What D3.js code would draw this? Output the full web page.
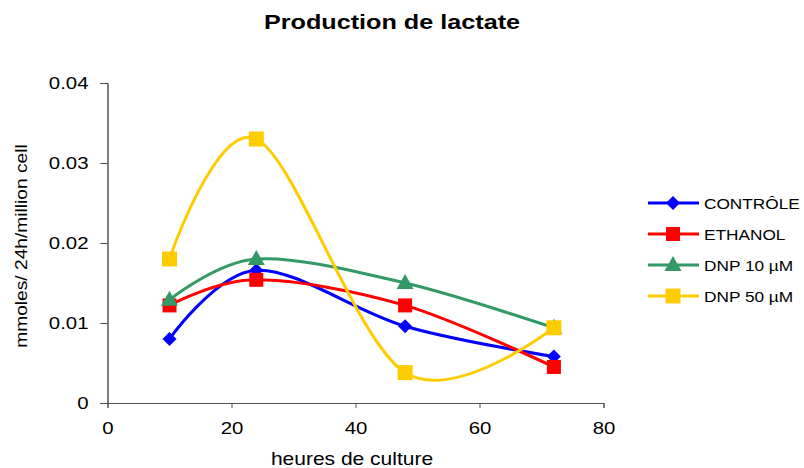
<!DOCTYPE html>
<html>
<head>
<meta charset="utf-8">
<script src="https://cdn.jsdelivr.net/npm/d3@7"></script>
<style>
  body { margin: 0; background: #fff; }
  svg text { font-family: "Liberation Sans", Arial, sans-serif; fill: #000; }
</style>
</head>
<body>
<div id="chart"></div>
<script>
// data
var hours = [10, 24, 48, 72]
var controle = [0.0080, 0.0166, 0.0096, 0.0058]
var ethanol = [0.0122, 0.0154, 0.0122, 0.0045]
var dnp10 = [0.0129, 0.0180, 0.0150, 0.0094]
var dnp50 = [0.0180, 0.0330, 0.0038, 0.0094]

var seriesNames = ['CONTRÔLE', 'ETHANOL', 'DNP 10 µM', 'DNP 50 µM']
var seriesColors = ['#0000ff', '#ff0000', '#339966', '#ffcc00']
var seriesSymbols = ['diamond', 'square', 'triangle', 'bigsquare']
var xTicks = [0, 20, 40, 60, 80]
var yTicks = [0, 0.01, 0.02, 0.03, 0.04]

var width = 804, height = 468
var sx = 1.2 // the original text is a bit stretched sideways

var svg = d3.select('#chart').append('svg')
	.attr('width', width)
	.attr('height', height)

var x = d3.scaleLinear().domain([0, 80]).range([107.5, 603.5])
var y = d3.scaleLinear().domain([0, 0.04]).range([403, 83])

var line = d3.line()
	.x(d => x(d[0]))
	.y(d => y(d[1]))
	.curve(d3.curveCatmullRom.alpha(0))

var label = (tx, ty, size, txt, rot) => svg.append('text')
	.attr('transform', 'translate(' + tx + ',' + ty + ')' + (rot ? ' rotate(-90)' : '') + ' scale(' + sx + ',1)')
	.attr('text-anchor', 'middle')
	.attr('font-size', size)
	.text(txt)

// title
label(392, 29, 21, 'Production de lactate').attr('font-weight', 'bold')

// axes
var yAxis = svg.append('g')
	.attr('transform', 'translate(' + x(0) + ',0)')
	.call(d3.axisLeft(y).tickValues(yTicks).tickSize(7)
		.tickFormat(d => d === 0 ? '0' : d3.format('.2f')(d)))
yAxis.select('.domain').attr('stroke', '#000')
yAxis.selectAll('.tick line').attr('stroke', '#444')
yAxis.selectAll('text')
	.attr('font-size', 17).attr('fill', '#000')
	.attr('font-family', '"Liberation Sans", Arial, sans-serif')
	.attr('x', -19 / sx)
	.attr('transform', 'scale(' + sx + ',1)')

var xAxis = svg.append('g')
	.attr('transform', 'translate(0,' + y(0) + ')')
	.call(d3.axisBottom(x).tickValues(xTicks).tickSize(5))
xAxis.select('.domain').attr('stroke', '#555')
xAxis.selectAll('.tick line').attr('stroke', '#555')
xAxis.selectAll('text')
	.attr('font-size', 17).attr('fill', '#000')
	.attr('font-family', '"Liberation Sans", Arial, sans-serif')
	.attr('y', 31).attr('dy', 0)
	.attr('transform', 'scale(' + sx + ',1)')

label(352, 465, 17.5, 'heures de culture')
label(27, 246, 16, 'mmoles/ 24h/million cell', true)

var allSeries = [controle, ethanol, dnp10, dnp50]

function marker(g, kind, color, cx, cy) {
	if (kind === 'diamond') {
		g.append('path')
			.attr('d', 'M0,-7L7,0L0,7L-7,0Z')
			.attr('transform', 'translate(' + cx + ',' + cy + ')')
			.attr('fill', color)
	} else if (kind === 'square') {
		g.append('rect')
			.attr('x', cx - 7).attr('y', cy - 7)
			.attr('width', 14).attr('height', 14)
			.attr('fill', color)
	} else if (kind === 'bigsquare') {
		g.append('rect')
			.attr('x', cx - 7.5).attr('y', cy - 7.5)
			.attr('width', 15).attr('height', 15)
			.attr('fill', color)
	} else {
		g.append('path')
			.attr('d', 'M0,-9L8.5,6L-8.5,6Z')
			.attr('transform', 'translate(' + cx + ',' + cy + ')')
			.attr('fill', color)
	}
}

allSeries.forEach((vals, i) => {
	var pts = hours.map((h, j) => [h, vals[j]])
	var g = svg.append('g')
	g.append('path')
		.datum(pts)
		.attr('d', line)
		.attr('fill', 'none')
		.attr('stroke', seriesColors[i])
		.attr('stroke-width', 3)
	pts.forEach(p => marker(g, seriesSymbols[i], seriesColors[i], x(p[0]), y(p[1])))
})

// legend
var legend = svg.append('g')
seriesNames.forEach((name, i) => {
	var ly = 203 + i * 31
	legend.append('line')
		.attr('x1', 648).attr('x2', 699)
		.attr('y1', ly).attr('y2', ly)
		.attr('stroke', seriesColors[i])
		.attr('stroke-width', 3)
	marker(legend, seriesSymbols[i], seriesColors[i], 673, ly)
	legend.append('text')
		.attr('transform', 'translate(704,' + (ly + 6) + ') scale(1.15,1)')
		.attr('font-size', 15)
		.text(name)
})
</script>
</body>
</html>
